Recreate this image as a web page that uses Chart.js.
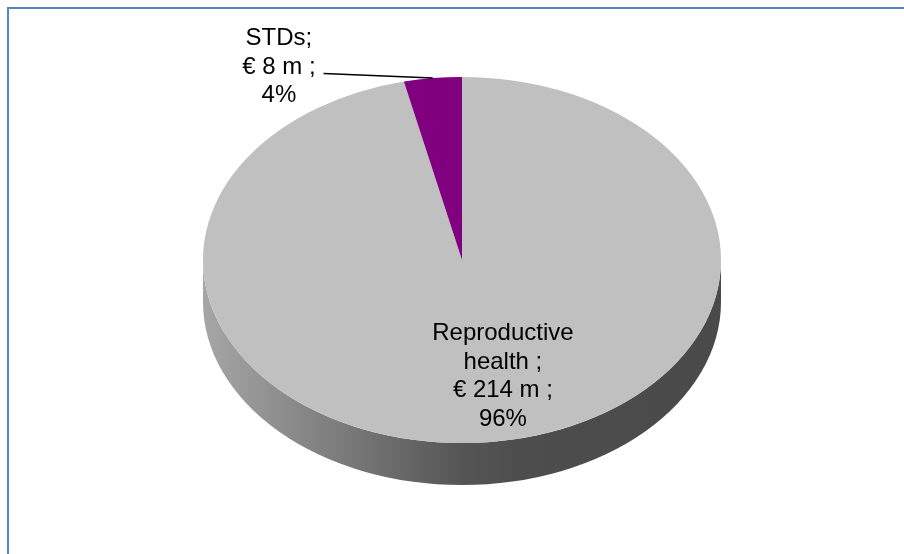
<!DOCTYPE html>
<html>
<head>
<meta charset="utf-8">
<script src="https://cdn.jsdelivr.net/npm/chart.js@4.4.1/dist/chart.umd.min.js"></script>
<style>
  html, body { margin: 0; padding: 0; background: #fff; overflow: hidden; }
  #wrap { position: relative; width: 904px; height: 554px; }
  #frame {
    position: absolute; left: 7px; top: 7px; width: 1000px; height: 1000px;
    border-left: 2px solid #5584c0; border-top: 2px solid #5584c0;
  }
  #chart { position: absolute; left: 0; top: 0; }
</style>
</head>
<body>
<div id="wrap">
  <div id="frame"></div>
  <canvas id="chart" width="904" height="554"></canvas>
</div>
<script>
// spending per area, € million
const categories = ['Reproductive health', 'STDs'];
const amounts = [214, 8];
const sliceColors = ['#c0c0c0', '#800080'];

// label lines for each slice, wrapped like the original
const total = amounts.reduce((a, b) => a + b, 0);
const shares = amounts.map(v => Math.round(v / total * 100) + '%');
const labelLines = [
  ['Reproductive', 'health ;', '€ ' + amounts[0] + ' m ;', shares[0]],
  ['STDs;', '€ ' + amounts[1] + ' m ;', shares[1]]
];
// label anchor: x offset in radii, first baseline in tilted radii
const labelAnchors = [
  { dx: 0.158, dy: 0.437 },
  { dx: -0.707, dy: -1.175 }
];

const TILT = 0.707;   // vertical squash of the pie top
const DEPTH = 42;     // height of the side wall
const LINE_H = 28.7;
const FONT = '24px "Liberation Sans", Arial, sans-serif';

const pie3d = {
  id: 'pie3d',
  beforeDatasetsDraw(chart) {
    const ctx = chart.ctx;
    const arcs = chart.getDatasetMeta(0).data;
    const cx = arcs[0].x, cy = arcs[0].y, r = arcs[0].outerRadius;
    const ry = r * TILT;

    // side wall, only the front half is visible
    const grad = ctx.createLinearGradient(cx - r, 0, cx + r, 0);
    grad.addColorStop(0, '#a6a6a6');
    grad.addColorStop(0.25, '#7e7e7e');
    grad.addColorStop(0.5, '#555555');
    grad.addColorStop(0.62, '#4d4d4d');
    grad.addColorStop(1, '#4a4a4a');
    arcs.forEach(arc => {
      const s = arc.startAngle, e = arc.endAngle;
      [-2 * Math.PI, 0, 2 * Math.PI].forEach(k => {
        const lo = Math.max(s, k), hi = Math.min(e, Math.PI + k);
        if (hi <= lo) return;
        ctx.beginPath();
        ctx.ellipse(cx, cy, r, ry, 0, lo - k, hi - k);
        ctx.ellipse(cx, cy + DEPTH, r, ry, 0, hi - k, lo - k, true);
        ctx.closePath();
        ctx.fillStyle = grad;
        ctx.fill();
      });
    });

    // squash the top face into an ellipse
    ctx.save();
    ctx.translate(cx, cy);
    ctx.scale(1, TILT);
    ctx.translate(-cx, -cy);
  },
  afterDatasetsDraw(chart) {
    const ctx = chart.ctx;
    ctx.restore();
    const arcs = chart.getDatasetMeta(0).data;
    const cx = arcs[0].x, cy = arcs[0].y, r = arcs[0].outerRadius;
    const ry = r * TILT;

    ctx.save();
    ctx.font = FONT;
    ctx.fillStyle = '#000';
    ctx.textAlign = 'center';
    ctx.textBaseline = 'alphabetic';
    labelLines.forEach((lines, i) => {
      const x = cx + labelAnchors[i].dx * r;
      const y0 = cy + labelAnchors[i].dy * ry;
      lines.forEach((t, j) => ctx.fillText(t, x, y0 + j * LINE_H));
    });

    // leader line from the small slice label to its rim
    const small = arcs[1];
    const mid = (small.startAngle + small.endAngle) / 2;
    const lx = cx + labelAnchors[1].dx * r + ctx.measureText(labelLines[1][1]).width / 2 + 8;
    const ly = cy + labelAnchors[1].dy * ry + LINE_H;
    ctx.beginPath();
    ctx.moveTo(lx, ly);
    ctx.lineTo(cx + r * Math.cos(mid), cy + ry * Math.sin(mid));
    ctx.strokeStyle = '#000';
    ctx.lineWidth = 1.5;
    ctx.stroke();
    ctx.restore();
  }
};

new Chart(document.getElementById('chart'), {
  type: 'pie',
  data: {
    labels: categories,
    datasets: [{
      data: amounts,
      backgroundColor: sliceColors,
      borderWidth: 0,
      offset: 0,
      hoverOffset: 0
    }]
  },
  options: {
    responsive: false,
    devicePixelRatio: 1,
    animation: false,
    events: [],
    layout: { padding: { left: 203, right: 183, top: 1, bottom: 35 } },
    plugins: {
      legend: { display: false },
      tooltip: { enabled: false }
    }
  },
  plugins: [pie3d]
});
</script>
</body>
</html>
